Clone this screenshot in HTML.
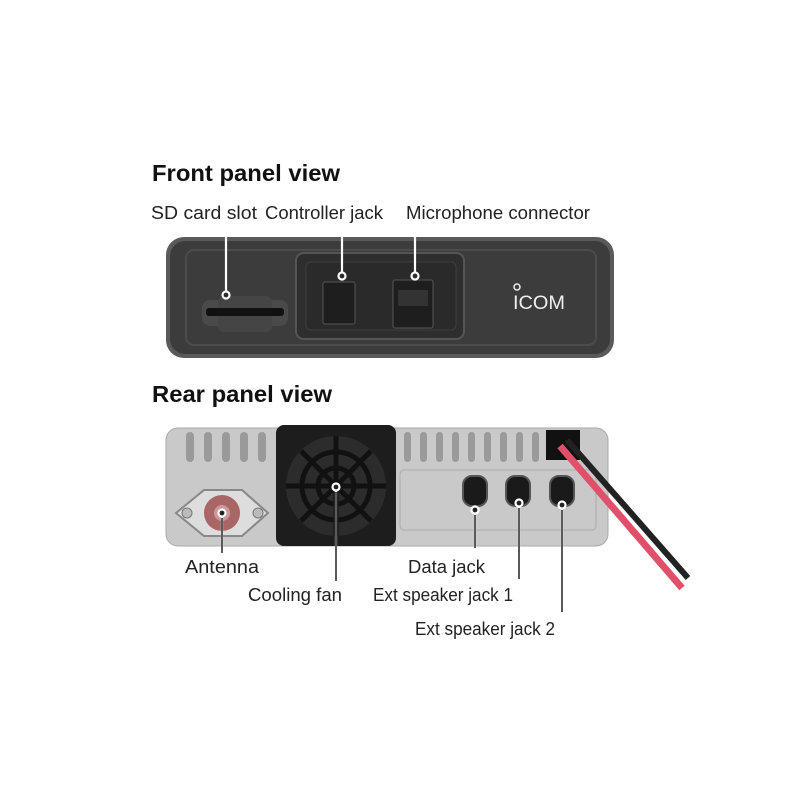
<!DOCTYPE html>
<html><head><style>html,body{margin:0;padding:0;background:#fff}svg{display:block}</style></head>
<body>
<svg width="800" height="800" viewBox="0 0 800 800" xmlns="http://www.w3.org/2000/svg" font-family="Liberation Sans, sans-serif">
<rect width="800" height="800" fill="#fff"/>
<text x="152" y="181" font-size="23" font-weight="bold" fill="#111" textLength="188" lengthAdjust="spacingAndGlyphs">Front panel view</text>
<g font-size="18" fill="#222">
<text x="151" y="219" textLength="106" lengthAdjust="spacingAndGlyphs">SD card slot</text>
<text x="265" y="219" textLength="118" lengthAdjust="spacingAndGlyphs">Controller jack</text>
<text x="406" y="219" textLength="184" lengthAdjust="spacingAndGlyphs">Microphone connector</text>
</g>
<!-- front panel -->
<rect x="166" y="237" width="448" height="121" rx="18" fill="#5a5a5a"/>
<rect x="170" y="241" width="440" height="113" rx="15" fill="#3c3c3c"/>
<rect x="186" y="250" width="410" height="95" rx="8" fill="none" stroke="#4c4c4c" stroke-width="2"/>
<rect x="296" y="253" width="168" height="86" rx="8" fill="#2e2e2e" stroke="#555" stroke-width="2"/>
<rect x="306" y="262" width="150" height="68" rx="5" fill="#2a2a2a" stroke="#3f3f3f"/>
<rect x="202" y="300" width="86" height="26" rx="8" fill="#4a4a4a"/>
<rect x="218" y="296" width="54" height="36" rx="6" fill="#454545"/>
<rect x="206" y="308" width="78" height="8" rx="3" fill="#111"/>
<rect x="323" y="282" width="32" height="42" rx="2" fill="#1e1e1e" stroke="#555"/>
<rect x="393" y="280" width="40" height="48" rx="2" fill="#1e1e1e" stroke="#555"/>
<rect x="398" y="290" width="30" height="16" fill="#333"/>
<text x="513" y="309" font-size="19" fill="#eee" textLength="52" lengthAdjust="spacingAndGlyphs">ICOM</text>
<circle cx="517" cy="287" r="3" fill="none" stroke="#eee" stroke-width="1.5"/>
<g stroke="#fff" stroke-width="2.2" fill="#2b2b2b">
<line x1="226" y1="226" x2="226" y2="292"/><circle cx="226" cy="295" r="3.5"/>
<line x1="342" y1="226" x2="342" y2="273"/><circle cx="342" cy="276" r="3.5"/>
<line x1="415" y1="226" x2="415" y2="273"/><circle cx="415" cy="276" r="3.5"/>
</g>
<text x="152" y="402" font-size="23" font-weight="bold" fill="#111" textLength="180" lengthAdjust="spacingAndGlyphs">Rear panel view</text>
<!-- rear body -->
<rect x="166" y="428" width="442" height="118" rx="12" fill="#c9c9c9" stroke="#aaa"/>
<g fill="#9a9a9a">
<rect x="186" y="432" width="8" height="30" rx="4"/><rect x="204" y="432" width="8" height="30" rx="4"/>
<rect x="222" y="432" width="8" height="30" rx="4"/><rect x="240" y="432" width="8" height="30" rx="4"/>
<rect x="258" y="432" width="8" height="30" rx="4"/>
<rect x="404" y="432" width="7" height="30" rx="3.5"/><rect x="420" y="432" width="7" height="30" rx="3.5"/>
<rect x="436" y="432" width="7" height="30" rx="3.5"/><rect x="452" y="432" width="7" height="30" rx="3.5"/>
<rect x="468" y="432" width="7" height="30" rx="3.5"/><rect x="484" y="432" width="7" height="30" rx="3.5"/>
<rect x="500" y="432" width="7" height="30" rx="3.5"/><rect x="516" y="432" width="7" height="30" rx="3.5"/>
<rect x="532" y="432" width="7" height="30" rx="3.5"/>
</g>
<rect x="400" y="470" width="196" height="60" rx="4" fill="none" stroke="#aaa"/>
<!-- antenna -->
<path d="M176 513 L204 490 L242 490 L268 513 L242 536 L204 536 Z" fill="#ddd" stroke="#888" stroke-width="2"/>
<circle cx="222" cy="513" r="18" fill="#a66"/>
<circle cx="222" cy="513" r="8" fill="#c99"/>
<circle cx="187" cy="513" r="5" fill="#bbb" stroke="#777"/>
<circle cx="258" cy="513" r="5" fill="#bbb" stroke="#777"/>
<!-- fan -->
<rect x="276" y="425" width="120" height="121" rx="8" fill="#1d1d1d"/>
<circle cx="336" cy="486" r="50" fill="#2c2c2c"/>
<g stroke="#111" stroke-width="5" fill="none">
<circle cx="336" cy="486" r="34"/><circle cx="336" cy="486" r="18"/>
<line x1="336" y1="436" x2="336" y2="536"/><line x1="286" y1="486" x2="386" y2="486"/>
<line x1="301" y1="451" x2="371" y2="521"/><line x1="371" y1="451" x2="301" y2="521"/>
</g>
<!-- jacks -->
<g fill="#1a1a1a" stroke="#555" stroke-width="2">
<rect x="463" y="476" width="24" height="30" rx="9"/>
<rect x="506" y="476" width="24" height="30" rx="9"/>
<rect x="550" y="476" width="24" height="30" rx="9"/>
</g>
<!-- cable -->
<rect x="546" y="430" width="34" height="30" fill="#111"/>
<line x1="560" y1="446" x2="682" y2="588" stroke="#e0506a" stroke-width="7"/>
<line x1="567" y1="440" x2="688" y2="578" stroke="#222" stroke-width="6"/>
<g stroke="#fff" stroke-width="2.2" fill="#222">
<line x1="222" y1="516" x2="222" y2="554"/><circle cx="222" cy="513" r="3.5"/>
<line x1="336" y1="490" x2="336" y2="582"/><circle cx="336" cy="487" r="3.5"/>
<line x1="475" y1="513" x2="475" y2="549"/><circle cx="475" cy="510" r="3.5"/>
<line x1="519" y1="506" x2="519" y2="580"/><circle cx="519" cy="503" r="3.5"/>
<line x1="562" y1="508" x2="562" y2="613"/><circle cx="562" cy="505" r="3.5"/>
</g>
<g stroke="#222" stroke-width="1.5">
<line x1="222" y1="518" x2="222" y2="553"/>
<line x1="336" y1="492" x2="336" y2="581"/>
<line x1="475" y1="515" x2="475" y2="548"/>
<line x1="519" y1="508" x2="519" y2="579"/>
<line x1="562" y1="510" x2="562" y2="612"/>
</g>
<g font-size="18" fill="#222">
<text x="185" y="573" textLength="74" lengthAdjust="spacingAndGlyphs">Antenna</text>
<text x="248" y="601" textLength="94" lengthAdjust="spacingAndGlyphs">Cooling fan</text>
<text x="408" y="573" textLength="77" lengthAdjust="spacingAndGlyphs">Data jack</text>
<text x="373" y="601" textLength="140" lengthAdjust="spacingAndGlyphs">Ext speaker jack 1</text>
<text x="415" y="635" textLength="140" lengthAdjust="spacingAndGlyphs">Ext speaker jack 2</text>
</g>
</svg>
</body></html>
